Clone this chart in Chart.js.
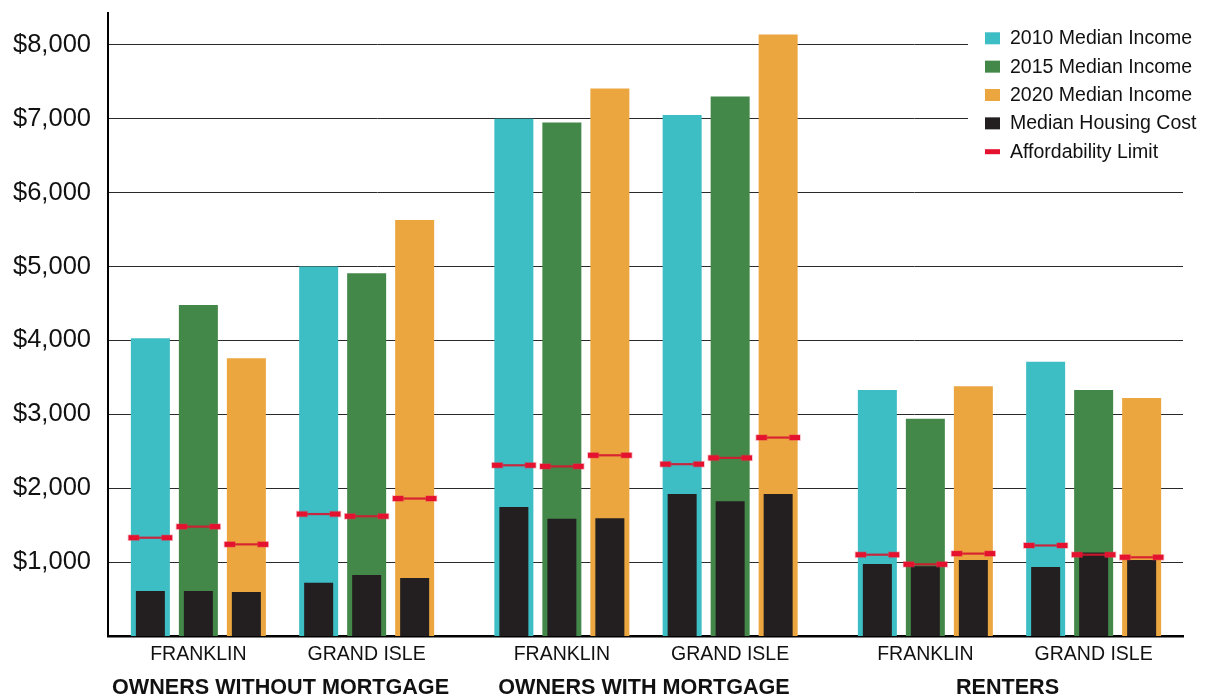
<!DOCTYPE html>
<html>
<head>
<meta charset="utf-8">
<title>Median Income, Housing Cost and Affordability</title>
<script src="https://cdn.jsdelivr.net/npm/chart.js@4.4.1/dist/chart.umd.min.js"></script>
<style>
  html, body { margin: 0; padding: 0; background: #ffffff; }
  #wrap { width: 1209px; height: 700px; position: relative; }
</style>
</head>
<body>
<div id="wrap"><canvas id="chart" width="1209" height="700"></canvas></div>
<script>
// ---- data -------------------------------------------------------------
const places  = ['FRANKLIN', 'GRAND ISLE', 'FRANKLIN', 'GRAND ISLE', 'FRANKLIN', 'GRAND ISLE'];
const tenures = ['OWNERS WITHOUT MORTGAGE', 'OWNERS WITH MORTGAGE', 'RENTERS'];
const years   = ['2010', '2015', '2020'];

const income2010 = [4030, 5000, 7000, 7050, 3330, 3710];
const income2015 = [4480, 4910, 6950, 7300, 2940, 3330];
const income2020 = [3760, 5630, 7410, 8140, 3380, 3220];

const housing2010 = [610, 720, 1745, 1920, 975, 935];
const housing2015 = [610, 825, 1585, 1825, 945, 1130];
const housing2020 = [595, 785, 1595, 1920, 1030, 1030];

const limit2010 = [1330, 1650, 2310, 2325, 1100, 1225];
const limit2015 = [1480, 1620, 2295, 2410, 970, 1100];
const limit2020 = [1240, 1860, 2445, 2685, 1115, 1065];

const yTicks = [1000, 2000, 3000, 4000, 5000, 6000, 7000, 8000];

// x slot of each place group (wider gap between tenure types)
const groupSlots = [0, 1, 2.16, 3.16, 4.32, 5.32];

// ---- styling ----------------------------------------------------------
const FONT = '"Liberation Sans", Arial, Helvetica, sans-serif';
const incomeColors = ['#3dbdc4', '#438848', '#eba63f'];
const housingColor = '#231f20';
const limitColor = '#e4112f';

const incomeSeries  = [income2010, income2015, income2020];
const housingSeries = [housing2010, housing2015, housing2020];
const limitSeries   = [limit2010, limit2015, limit2020];

const toPoints = arr => arr.map((v, i) => ({ x: groupSlots[i], y: v }));

const datasets = [];
years.forEach((yr, k) => {
  datasets.push({
    label: 'Affordability Limit',
    isLimit: true,
    data: toPoints(limitSeries[k]),
    stack: 's' + k,
    order: 0,
    backgroundColor: 'rgba(0,0,0,0)',
    barPercentage: 0.91
  });
});
years.forEach((yr, k) => {
  datasets.push({
    label: 'Median Housing Cost',
    data: toPoints(housingSeries[k]),
    stack: 's' + k,
    order: 1,
    backgroundColor: housingColor,
    barPercentage: 0.604
  });
});
years.forEach((yr, k) => {
  datasets.push({
    label: yr + ' Median Income',
    data: toPoints(incomeSeries[k]),
    stack: 's' + k,
    order: 2,
    backgroundColor: incomeColors[k],
    barPercentage: 0.8125
  });
});

// ---- plugins ----------------------------------------------------------
// affordability markers: a thin red line with a block cap at each end
const limitMarkers = {
  id: 'limitMarkers',
  afterDatasetsDraw(chart) {
    const ctx = chart.ctx;
    chart.data.datasets.forEach((ds, i) => {
      if (!ds.isLimit) return;
      chart.getDatasetMeta(i).data.forEach(bar => {
        const { x, y, width } = bar.getProps(['x', 'y', 'width'], true);
        const left = x - width / 2, right = x + width / 2;
        const capW = 10.5, capH = 5;
        ctx.save();
        ctx.strokeStyle = 'rgba(214, 22, 48, 0.9)';
        ctx.lineWidth = 2.2;
        ctx.beginPath();
        ctx.moveTo(left + capW, y);
        ctx.lineTo(right - capW, y);
        ctx.stroke();
        ctx.fillStyle = 'rgba(232, 60, 90, 0.35)';
        ctx.fillRect(left - 0.8, y - capH / 2 - 0.8, capW + 1.6, capH + 1.6);
        ctx.fillRect(right - capW - 0.8, y - capH / 2 - 0.8, capW + 1.6, capH + 1.6);
        ctx.fillStyle = limitColor;
        ctx.fillRect(left, y - capH / 2, capW, capH);
        ctx.fillRect(right - capW, y - capH / 2, capW, capH);
        ctx.restore();
      });
    });
  }
};

// tenure labels centred under each pair of place groups
const tenureLabels = {
  id: 'tenureLabels',
  afterDraw(chart) {
    const ctx = chart.ctx;
    const xs = chart.scales.x;
    ctx.save();
    ctx.font = 'bold 21.6px ' + FONT;
    ctx.fillStyle = '#111111';
    ctx.textAlign = 'center';
    ctx.textBaseline = 'middle';
    tenures.forEach((t, j) => {
      const cx = (xs.getPixelForValue(groupSlots[2 * j]) + xs.getPixelForValue(groupSlots[2 * j + 1])) / 2;
      ctx.fillText(t, cx - 2, 688);
    });
    ctx.restore();
  }
};

// legend box in the top-right corner of the plot, on a white panel
const cornerLegend = {
  id: 'cornerLegend',
  afterDraw(chart) {
    const ctx = chart.ctx;
    const items = [
      { text: years[0] + ' Median Income', color: incomeColors[0], kind: 'box' },
      { text: years[1] + ' Median Income', color: incomeColors[1], kind: 'box' },
      { text: years[2] + ' Median Income', color: incomeColors[2], kind: 'box' },
      { text: 'Median Housing Cost', color: housingColor, kind: 'box' },
      { text: 'Affordability Limit', color: limitColor, kind: 'dash' }
    ];
    const x0 = 985, base0 = 44.3, step = 28.35;
    ctx.save();
    ctx.fillStyle = '#ffffff';
    ctx.fillRect(968, 18, 232, 152);
    ctx.font = '19.5px ' + FONT;
    ctx.textAlign = 'left';
    ctx.textBaseline = 'alphabetic';
    items.forEach((it, i) => {
      const base = base0 + i * step;
      ctx.fillStyle = it.color;
      if (it.kind === 'box') {
        ctx.fillRect(x0, base - 12, 15, 12);
      } else {
        ctx.fillRect(x0, base - 8.5, 15, 5);
      }
      ctx.fillStyle = '#111111';
      ctx.fillText(it.text, x0 + 25, base);
    });
    ctx.restore();
  }
};

// ---- chart ------------------------------------------------------------
new Chart(document.getElementById('chart'), {
  type: 'bar',
  data: { datasets },
  options: {
    responsive: false,
    animation: false,
    devicePixelRatio: 1,
    layout: { padding: { top: 13, right: 26, left: 0, bottom: 0 } },
    datasets: { bar: { categoryPercentage: 0.8557, grouped: true } },
    plugins: {
      legend: { display: false },
      tooltip: { enabled: false },
      title: { display: false }
    },
    scales: {
      x: {
        type: 'linear',
        min: -0.537,
        max: 5.851,
        bounds: 'data',
        offset: false,
        stacked: true,
        grid: { display: false, drawTicks: false },
        border: { display: true, color: '#000000', width: 2.5 },
        afterBuildTicks: s => { s.ticks = groupSlots.map(v => ({ value: v })); },
        afterFit: s => { s.height = 64; s.paddingLeft = 0; s.paddingRight = 0; },
        ticks: {
          autoSkip: false,
          maxRotation: 0,
          padding: 7,
          color: '#111111',
          font: { family: FONT, size: 19.5 },
          callback: (v, i) => places[i]
        }
      },
      y: {
        type: 'linear',
        stacked: false,
        min: 0,
        max: 8430,
        afterBuildTicks: s => { s.ticks = yTicks.map(v => ({ value: v })); },
        afterFit: s => { s.width = 108; s.paddingTop = 0; s.paddingBottom = 0; },
        grid: { color: '#2a2a2a', lineWidth: 1, drawTicks: false },
        border: { display: true, color: '#000000', width: 2 },
        ticks: {
          padding: 17,
          color: '#111111',
          font: { family: FONT, size: 25.5 },
          callback: v => '$' + Number(v).toLocaleString('en-US')
        }
      }
    }
  },
  plugins: [limitMarkers, tenureLabels, cornerLegend]
});
</script>
</body>
</html>
